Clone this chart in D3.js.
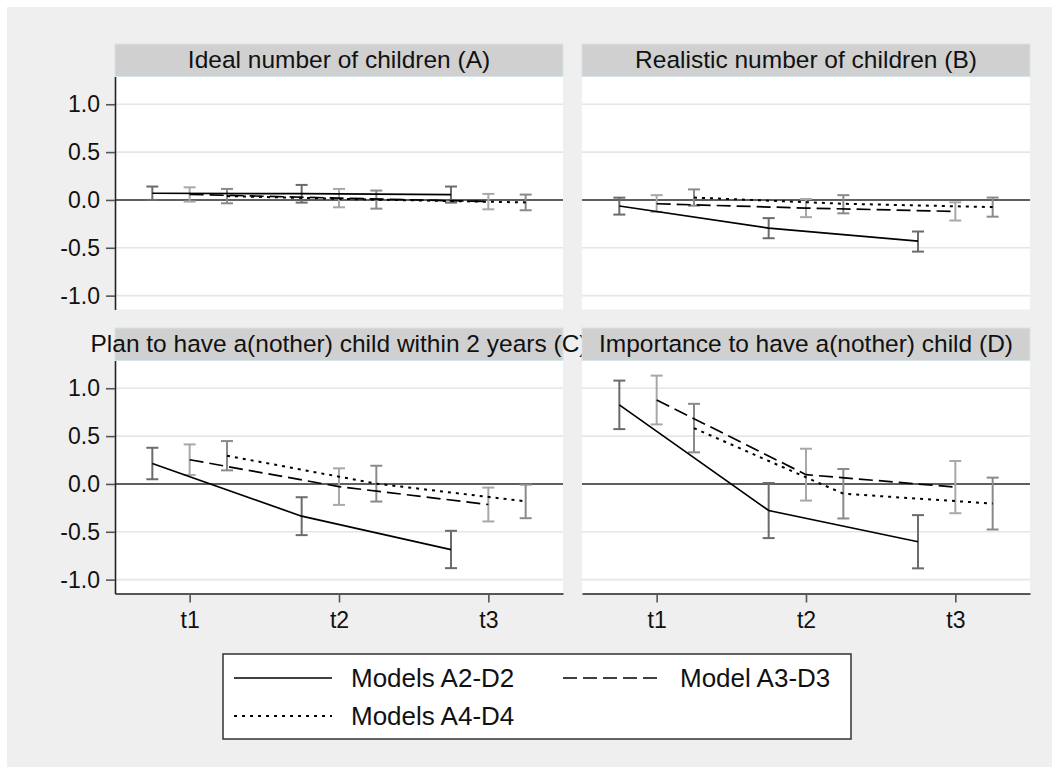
<!DOCTYPE html>
<html lang="en">
<head>
<meta charset="utf-8">
<title>Model estimates by wave</title>
<script src="https://cdnjs.cloudflare.com/ajax/libs/d3/7.8.5/d3.min.js"></script>
<style>
  body { margin: 0; background: #fff; }
  svg { display: block; font-family: "Liberation Sans", Arial, sans-serif; }
</style>
</head>
<body>
<script>

// panel titles, waves, models
var panelTitles = ["Ideal number of children (A)", "Realistic number of children (B)",
                   "Plan to have a(nother) child within 2 years (C)", "Importance to have a(nother) child (D)"];
var waves = ["t1", "t2", "t3"];
var models = ["Models A2-D2", "Model A3-D3", "Models A4-D4"];
var yTicks = [-1.0, -0.5, 0, 0.5, 1.0];

// estimates per panel (A..D), each [t1, t2, t3]
var estA2 = [[0.07, 0.065, 0.056], [-0.063, -0.295, -0.43], [0.213, -0.337, -0.686], [0.826, -0.278, -0.604]];
var loA2  = [[0.0, -0.028, -0.028], [-0.153, -0.40, -0.54], [0.049, -0.535, -0.88], [0.573, -0.566, -0.882]];
var hiA2  = [[0.14, 0.157, 0.14], [0.024, -0.19, -0.33], [0.378, -0.139, -0.49], [1.08, 0.01, -0.326]];

var estA3 = [[0.058, 0.019, -0.017], [-0.04, -0.085, -0.12], [0.253, -0.028, -0.215], [0.877, 0.097, -0.033]];
var loA3  = [[-0.017, -0.077, -0.098], [-0.125, -0.18, -0.215], [0.094, -0.219, -0.392], [0.622, -0.174, -0.306]];
var hiA3  = [[0.132, 0.115, 0.063], [0.05, 0.01, -0.025], [0.413, 0.163, -0.038], [1.132, 0.368, 0.24]];

var estA4 = [[0.04, 0.003, -0.026], [0.025, -0.04, -0.075], [0.295, 0.003, -0.182], [0.583, -0.102, -0.205]];
var loA4  = [[-0.035, -0.091, -0.108], [-0.06, -0.14, -0.175], [0.142, -0.184, -0.358], [0.33, -0.361, -0.476]];
var hiA4  = [[0.115, 0.098, 0.056], [0.11, 0.05, 0.025], [0.448, 0.19, -0.007], [0.837, 0.156, 0.066]];

var w = 1052, h = 767;

var series = [
  {est: estA2, lo: loA2, hi: hiA2, offset: -0.25, dash: null, bar: "#6b6b6b"},
  {est: estA3, lo: loA3, hi: hiA3, offset: 0, dash: "14,6", bar: "#a8a8a8"},
  {est: estA4, lo: loA4, hi: hiA4, offset: 0.25, dash: "3,5", bar: "#8a8a8a"}
];

var svg = d3.select("body").append("svg")
  .attr("width", w)
  .attr("height", h);

svg.append("rect").attr("x", 7).attr("y", 7)
  .attr("width", w - 7).attr("height", h - 7)
  .attr("fill", "#efefef");

var colX = [115, 582];
var rowY = [44, 328];
var panelW = 448, headH = 32.5, plotH = 233;

panelTitles.forEach(function(title, p) {
  var col = p % 2, row = Math.floor(p / 2);
  var x0 = colX[col];
  var top = rowY[row] + headH;
  var bottom = top + plotH;

  var x = d3.scaleLinear().domain([0.5, 3.5]).range([x0, x0 + panelW]);
  var y = d3.scaleLinear().domain([-1.145, 1.29]).range([bottom, top]);

  var g = svg.append("g");

  // plot area
  g.append("rect").attr("x", x0).attr("y", top)
    .attr("width", panelW).attr("height", plotH)
    .attr("fill", "#fff");

  // header
  g.append("rect").attr("x", x0).attr("y", rowY[row])
    .attr("width", panelW).attr("height", headH)
    .attr("fill", "#d0d0d0").attr("stroke", "#d6e4ec").attr("stroke-width", 1);
  g.append("text")
    .attr("x", x0 + panelW / 2).attr("y", rowY[row] + 23.5)
    .attr("text-anchor", "middle")
    .attr("font-size", 24.5).attr("fill", "#111")
    .text(title);

  // grid lines
  g.selectAll(".grid").data(yTicks).enter().append("line")
    .attr("x1", x0).attr("x2", x0 + panelW)
    .attr("y1", function(d) { return y(d); })
    .attr("y2", function(d) { return y(d); })
    .attr("stroke", function(d) { return d === 0 ? "#2a2a2a" : "#e6e6e6"; })
    .attr("stroke-width", 1.6);

  // error bars
  series.forEach(function(s) {
    var bars = g.append("g").attr("stroke", s.bar).attr("stroke-width", 2).attr("fill", "none");
    [0, 1, 2].forEach(function(i) {
      var cx = x(i + 1 + s.offset);
      var yl = y(s.lo[p][i]), yh = y(s.hi[p][i]);
      bars.append("line").attr("x1", cx).attr("x2", cx).attr("y1", yl).attr("y2", yh);
      bars.append("line").attr("x1", cx - 6).attr("x2", cx + 6).attr("y1", yl).attr("y2", yl);
      bars.append("line").attr("x1", cx - 6).attr("x2", cx + 6).attr("y1", yh).attr("y2", yh);
    });
  });

  // lines
  series.forEach(function(s) {
    var line = d3.line()
      .x(function(d, i) { return x(i + 1 + s.offset); })
      .y(function(d) { return y(d); });
    g.append("path")
      .datum(s.est[p])
      .attr("d", line)
      .attr("fill", "none")
      .attr("stroke", "#000")
      .attr("stroke-width", s.dash === "3,5" ? 2 : 1.7)
      .attr("stroke-dasharray", s.dash);
  });

  // y axis on left panels
  if (col === 0) {
    var ya = g.append("g")
      .attr("transform", "translate(" + x0 + ",0)")
      .call(d3.axisLeft(y).tickValues(yTicks).tickFormat(function(d) { return d.toFixed(1); })
        .tickSize(9).tickSizeOuter(0).tickPadding(6));
    ya.select(".domain").attr("stroke", "#222").attr("stroke-width", 1.6);
    ya.selectAll(".tick line").attr("stroke", "#555").attr("stroke-width", 1.6);
    ya.selectAll("text").attr("font-size", 23).attr("fill", "#111")
      .attr("font-family", "Liberation Sans, Arial, sans-serif");
  }

  // x axis on bottom panels
  if (row === 1) {
    var xa = g.append("g")
      .attr("transform", "translate(0," + bottom + ")")
      .call(d3.axisBottom(x).tickValues([1, 2, 3]).tickFormat(function(d) { return waves[d - 1]; })
        .tickSize(9).tickSizeOuter(0).tickPadding(9));
    xa.select(".domain").attr("stroke", "#222").attr("stroke-width", 1.6);
    xa.selectAll(".tick line").attr("stroke", "#555").attr("stroke-width", 1.6);
    xa.selectAll("text").attr("font-size", 23).attr("fill", "#111")
      .attr("font-family", "Liberation Sans, Arial, sans-serif");
  }
});

// legend
var leg = svg.append("g");
leg.append("rect").attr("x", 223).attr("y", 654)
  .attr("width", 628).attr("height", 85)
  .attr("fill", "#fff").attr("stroke", "#333").attr("stroke-width", 1.5);

var legPos = [[234, 678], [563, 678], [234, 716]];
series.forEach(function(s, i) {
  var lx = legPos[i][0], ly = legPos[i][1];
  leg.append("line")
    .attr("x1", lx).attr("x2", lx + 98)
    .attr("y1", ly).attr("y2", ly)
    .attr("stroke", "#000")
    .attr("stroke-width", s.dash === "3,5" ? 2 : 1.7)
    .attr("stroke-dasharray", s.dash);
  leg.append("text")
    .attr("x", lx + 117).attr("y", ly + 9)
    .attr("font-size", 26).attr("fill", "#111")
    .text(models[i]);
});

</script>
</body>
</html>
